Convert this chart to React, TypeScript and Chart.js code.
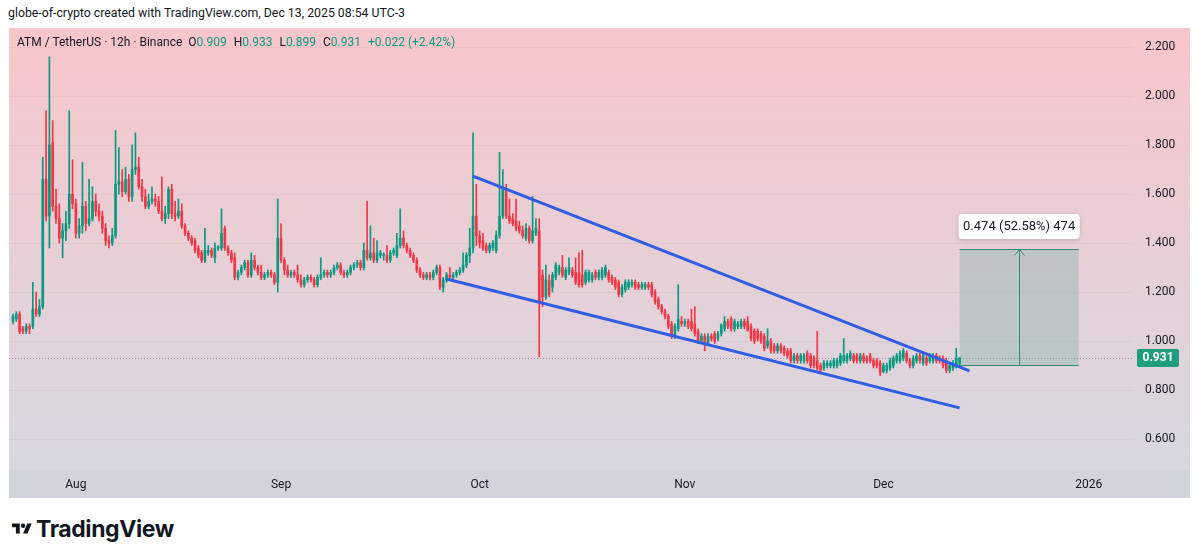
import React, { useEffect, useRef } from "react";
import { Chart, registerables } from "chart.js";

Chart.register(...registerables);

// ---- Candle data (ATM / TetherUS, 12h, from 22 Jul 2025 12:00) ----
const firstCandleDay = -9.5; // days relative to 1 Aug 2025 00:00
const candleStepDays = 0.5;

const opens = [
  1.08, 1.09, 1.11, 1.05, 1.04, 1.06, 1.06, 1.13, 1.11, 1.14,
  1.66, 1.51, 1.81, 1.55, 1.50, 1.42, 1.45, 1.48, 1.60, 1.56,
  1.44, 1.47, 1.55, 1.48, 1.50, 1.57, 1.53, 1.51, 1.46, 1.41,
  1.40, 1.43, 1.64, 1.65, 1.61, 1.66, 1.59, 1.70, 1.71, 1.63,
  1.59, 1.55, 1.57, 1.58, 1.57, 1.53, 1.50, 1.52, 1.62, 1.52,
  1.51, 1.53, 1.47, 1.44, 1.42, 1.41, 1.38, 1.36, 1.33, 1.36,
  1.37, 1.34, 1.38, 1.38, 1.46, 1.38, 1.36, 1.34, 1.26, 1.28,
  1.30, 1.32, 1.27, 1.33, 1.30, 1.28, 1.26, 1.27, 1.28, 1.27,
  1.24, 1.42, 1.33, 1.29, 1.27, 1.28, 1.27, 1.25, 1.23, 1.25,
  1.26, 1.25, 1.23, 1.26, 1.27, 1.28, 1.27, 1.28, 1.30, 1.31,
  1.28, 1.27, 1.28, 1.30, 1.31, 1.32, 1.30, 1.37, 1.34, 1.36,
  1.33, 1.35, 1.35, 1.35, 1.33, 1.36, 1.35, 1.39, 1.42, 1.39,
  1.37, 1.35, 1.33, 1.29, 1.27, 1.26, 1.27, 1.26, 1.28, 1.30,
  1.22, 1.25, 1.27, 1.26, 1.27, 1.28, 1.29, 1.31, 1.35, 1.38,
  1.51, 1.43, 1.41, 1.39, 1.37, 1.38, 1.37, 1.43, 1.51, 1.62,
  1.51, 1.50, 1.49, 1.47, 1.45, 1.42, 1.46, 1.41, 1.44, 1.45,
  1.27, 1.18, 1.25, 1.22, 1.26, 1.28, 1.30, 1.26, 1.28, 1.29,
  1.28, 1.28, 1.27, 1.24, 1.25, 1.25, 1.28, 1.26, 1.26, 1.27,
  1.28, 1.26, 1.25, 1.24, 1.19, 1.21, 1.22, 1.23, 1.24, 1.23,
  1.22, 1.22, 1.23, 1.23, 1.20, 1.17, 1.14, 1.12, 1.10, 1.07,
  1.02, 1.05, 1.08, 1.07, 1.08, 1.08, 1.07, 1.04, 1.00, 1.02,
  0.99, 1.02, 1.03, 1.01, 1.03, 1.05, 1.08, 1.09, 1.05, 1.06,
  1.06, 1.08, 1.08, 1.06, 1.04, 1.04, 1.03, 1.02, 0.98, 1.00,
  0.98, 0.96, 0.98, 0.97, 0.96, 0.96, 0.92, 0.94, 0.92, 0.92,
  0.95, 0.94, 0.93, 0.92, 0.90, 0.89, 0.90, 0.90, 0.90, 0.90,
  0.91, 0.92, 0.92, 0.93, 0.94, 0.94, 0.92, 0.94, 0.93, 0.94,
  0.92, 0.92, 0.91, 0.875, 0.88, 0.89, 0.90, 0.92, 0.92, 0.93,
  0.95, 0.92, 0.90, 0.92, 0.94, 0.91, 0.93, 0.92, 0.92, 0.94,
  0.93, 0.93, 0.92, 0.88, 0.89, 0.895, 0.909,
];

const highs = [
  1.11, 1.12, 1.12, 1.06, 1.07, 1.07, 1.24, 1.20, 1.17, 1.75,
  1.94, 2.16, 1.90, 1.62, 1.56, 1.48, 1.53, 1.94, 1.74, 1.58,
  1.50, 1.73, 1.57, 1.66, 1.63, 1.60, 1.56, 1.53, 1.48, 1.43,
  1.46, 1.86, 1.79, 1.70, 1.71, 1.68, 1.80, 1.85, 1.75, 1.66,
  1.62, 1.60, 1.63, 1.60, 1.59, 1.67, 1.55, 1.63, 1.64, 1.57,
  1.58, 1.56, 1.48, 1.45, 1.43, 1.42, 1.39, 1.37, 1.46, 1.39,
  1.38, 1.40, 1.39, 1.54, 1.47, 1.39, 1.37, 1.36, 1.29, 1.31,
  1.33, 1.33, 1.36, 1.35, 1.31, 1.31, 1.28, 1.29, 1.29, 1.28,
  1.58, 1.48, 1.34, 1.31, 1.29, 1.29, 1.31, 1.27, 1.26, 1.27,
  1.27, 1.26, 1.27, 1.34, 1.29, 1.29, 1.29, 1.31, 1.32, 1.32,
  1.29, 1.29, 1.31, 1.32, 1.33, 1.33, 1.40, 1.57, 1.47, 1.42,
  1.41, 1.37, 1.36, 1.39, 1.37, 1.38, 1.44, 1.54, 1.45, 1.40,
  1.38, 1.36, 1.34, 1.30, 1.28, 1.28, 1.28, 1.29, 1.31, 1.31,
  1.26, 1.28, 1.30, 1.28, 1.29, 1.30, 1.36, 1.36, 1.46, 1.85,
  1.64, 1.45, 1.44, 1.40, 1.40, 1.41, 1.45, 1.77, 1.70, 1.64,
  1.58, 1.52, 1.58, 1.49, 1.47, 1.48, 1.47, 1.59, 1.50, 1.50,
  1.29, 1.31, 1.27, 1.28, 1.32, 1.31, 1.35, 1.30, 1.34, 1.30,
  1.34, 1.36, 1.37, 1.29, 1.29, 1.28, 1.29, 1.29, 1.30, 1.31,
  1.29, 1.27, 1.26, 1.25, 1.23, 1.25, 1.25, 1.25, 1.25, 1.24,
  1.24, 1.24, 1.24, 1.24, 1.21, 1.18, 1.15, 1.13, 1.11, 1.08,
  1.07, 1.23, 1.10, 1.09, 1.09, 1.13, 1.14, 1.05, 1.03, 1.03,
  1.03, 1.03, 1.04, 1.04, 1.07, 1.10, 1.09, 1.10, 1.09, 1.08,
  1.09, 1.09, 1.10, 1.07, 1.05, 1.05, 1.04, 1.03, 1.05, 1.01,
  0.99, 0.99, 0.99, 0.98, 0.97, 0.97, 0.95, 0.95, 0.95, 0.95,
  0.96, 0.95, 0.94, 1.04, 0.91, 0.92, 0.92, 0.92, 0.93, 0.93,
  0.95, 1.01, 0.95, 0.96, 0.95, 0.95, 0.95, 0.95, 0.94, 0.95,
  0.93, 0.93, 0.92, 0.91, 0.91, 0.93, 0.94, 0.95, 0.96, 0.97,
  0.96, 0.93, 0.94, 0.95, 0.95, 0.95, 0.94, 0.95, 0.95, 0.95,
  0.94, 0.94, 0.93, 0.91, 0.92, 0.97, 0.933,
];

const lows = [
  1.07, 1.08, 1.03, 1.03, 1.03, 1.03, 1.05, 1.10, 1.10, 1.13,
  1.49, 1.38, 1.53, 1.48, 1.40, 1.34, 1.41, 1.46, 1.54, 1.42,
  1.42, 1.44, 1.45, 1.47, 1.49, 1.51, 1.49, 1.44, 1.39, 1.38,
  1.39, 1.42, 1.60, 1.59, 1.60, 1.57, 1.57, 1.68, 1.62, 1.57,
  1.54, 1.54, 1.56, 1.55, 1.52, 1.49, 1.48, 1.50, 1.50, 1.49,
  1.50, 1.46, 1.43, 1.41, 1.39, 1.36, 1.34, 1.32, 1.32, 1.35,
  1.34, 1.32, 1.37, 1.37, 1.37, 1.35, 1.32, 1.25, 1.25, 1.27,
  1.29, 1.26, 1.26, 1.29, 1.27, 1.25, 1.25, 1.26, 1.26, 1.23,
  1.20, 1.32, 1.27, 1.26, 1.26, 1.26, 1.24, 1.22, 1.22, 1.24,
  1.24, 1.22, 1.22, 1.25, 1.26, 1.26, 1.26, 1.27, 1.29, 1.27,
  1.26, 1.26, 1.27, 1.29, 1.30, 1.29, 1.29, 1.33, 1.33, 1.32,
  1.32, 1.34, 1.33, 1.32, 1.32, 1.35, 1.34, 1.38, 1.38, 1.36,
  1.34, 1.32, 1.28, 1.26, 1.25, 1.25, 1.25, 1.25, 1.27, 1.21,
  1.20, 1.24, 1.25, 1.25, 1.26, 1.27, 1.28, 1.30, 1.32, 1.36,
  1.39, 1.38, 1.37, 1.36, 1.36, 1.37, 1.36, 1.42, 1.50, 1.50,
  1.48, 1.47, 1.45, 1.44, 1.42, 1.41, 1.40, 1.40, 1.43, 0.935,
  1.14, 1.17, 1.18, 1.20, 1.25, 1.27, 1.26, 1.25, 1.27, 1.26,
  1.23, 1.22, 1.22, 1.23, 1.24, 1.24, 1.25, 1.25, 1.25, 1.26,
  1.24, 1.23, 1.21, 1.18, 1.18, 1.20, 1.21, 1.22, 1.21, 1.21,
  1.21, 1.21, 1.21, 1.18, 1.15, 1.13, 1.11, 1.09, 1.05, 1.01,
  1.01, 1.04, 1.06, 1.06, 1.05, 1.04, 1.02, 0.99, 0.99, 0.96,
  0.98, 1.00, 0.99, 1.00, 1.02, 1.04, 1.05, 1.04, 1.04, 1.05,
  1.05, 1.05, 1.04, 1.00, 0.99, 1.00, 0.99, 0.96, 0.97, 0.95,
  0.95, 0.95, 0.95, 0.94, 0.93, 0.91, 0.91, 0.91, 0.91, 0.91,
  0.91, 0.89, 0.89, 0.88, 0.87, 0.88, 0.89, 0.89, 0.89, 0.89,
  0.90, 0.91, 0.91, 0.92, 0.91, 0.91, 0.91, 0.91, 0.91, 0.91,
  0.89, 0.89, 0.86, 0.87, 0.87, 0.88, 0.89, 0.91, 0.91, 0.92,
  0.91, 0.89, 0.89, 0.91, 0.91, 0.90, 0.90, 0.91, 0.91, 0.91,
  0.91, 0.89, 0.87, 0.87, 0.88, 0.89, 0.899,
];

const closes = [
  1.10, 1.11, 1.04, 1.04, 1.06, 1.05, 1.13, 1.11, 1.14, 1.66,
  1.51, 1.80, 1.55, 1.50, 1.42, 1.45, 1.48, 1.60, 1.56, 1.44,
  1.47, 1.55, 1.48, 1.50, 1.57, 1.53, 1.51, 1.46, 1.41, 1.40,
  1.43, 1.64, 1.65, 1.61, 1.66, 1.59, 1.70, 1.71, 1.63, 1.59,
  1.55, 1.57, 1.58, 1.57, 1.53, 1.50, 1.52, 1.62, 1.52, 1.51,
  1.53, 1.47, 1.44, 1.42, 1.40, 1.37, 1.35, 1.33, 1.37, 1.37,
  1.35, 1.38, 1.38, 1.44, 1.38, 1.36, 1.33, 1.26, 1.28, 1.30,
  1.32, 1.27, 1.33, 1.30, 1.28, 1.26, 1.27, 1.28, 1.27, 1.24,
  1.42, 1.33, 1.29, 1.27, 1.28, 1.27, 1.25, 1.23, 1.25, 1.26,
  1.25, 1.23, 1.26, 1.27, 1.28, 1.27, 1.28, 1.30, 1.31, 1.28,
  1.27, 1.28, 1.30, 1.31, 1.32, 1.30, 1.37, 1.34, 1.36, 1.33,
  1.36, 1.36, 1.35, 1.33, 1.36, 1.37, 1.39, 1.42, 1.39, 1.37,
  1.35, 1.33, 1.29, 1.27, 1.26, 1.27, 1.26, 1.28, 1.30, 1.22,
  1.25, 1.27, 1.26, 1.27, 1.28, 1.29, 1.31, 1.35, 1.38, 1.51,
  1.43, 1.40, 1.38, 1.37, 1.39, 1.40, 1.43, 1.51, 1.62, 1.51,
  1.49, 1.48, 1.46, 1.45, 1.43, 1.46, 1.41, 1.45, 1.46, 1.16,
  1.18, 1.25, 1.19, 1.27, 1.31, 1.30, 1.27, 1.29, 1.30, 1.27,
  1.24, 1.23, 1.23, 1.28, 1.28, 1.27, 1.26, 1.28, 1.29, 1.30,
  1.25, 1.24, 1.22, 1.19, 1.22, 1.24, 1.24, 1.24, 1.22, 1.22,
  1.23, 1.23, 1.22, 1.19, 1.16, 1.14, 1.12, 1.10, 1.06, 1.02,
  1.06, 1.09, 1.07, 1.08, 1.06, 1.05, 1.03, 1.00, 1.02, 0.99,
  1.02, 1.01, 1.00, 1.03, 1.065, 1.08, 1.06, 1.05, 1.08, 1.07,
  1.08, 1.06, 1.045, 1.01, 1.00, 1.01, 1.00, 0.97, 1.00, 0.96,
  0.96, 0.98, 0.96, 0.95, 0.94, 0.92, 0.94, 0.92, 0.94, 0.94,
  0.92, 0.90, 0.90, 0.89, 0.88, 0.91, 0.91, 0.91, 0.92, 0.92,
  0.94, 0.94, 0.94, 0.95, 0.92, 0.92, 0.94, 0.92, 0.92, 0.92,
  0.90, 0.90, 0.87, 0.90, 0.90, 0.92, 0.93, 0.94, 0.95, 0.96,
  0.92, 0.90, 0.93, 0.94, 0.92, 0.94, 0.91, 0.94, 0.94, 0.92,
  0.92, 0.90, 0.88, 0.90, 0.91, 0.93, 0.931,
];

// ---- Axes ----
const monthTickDays = [0, 31, 61, 92, 122, 153];
const monthTickLabels = ["Aug", "Sep", "Oct", "Nov", "Dec", "2026"];
const priceTicks = [0.6, 0.8, 1.0, 1.2, 1.4, 1.6, 1.8, 2.0, 2.2];
const xRange = [-10.1, 159.7];
const yRange = [0.4735, 2.278];

// ---- Drawings ----
const upperTrendDays = [60, 135];
const upperTrendValues = [1.673, 0.878];
const lowerTrendDays = [56, 133.5];
const lowerTrendValues = [1.253, 0.727];

const rangeDays = [133.5, 151.5];
const rangeValues = [0.9015, 1.3755];
const rangeLabel = "0.474 (52.58%) 474";

const lastPrice = 0.931;

const UP = "#089981";
const DOWN = "#f23645";
const TREND = "#2f5de3";
const FONT = "Roboto, 'Liberation Sans', sans-serif";

function roundRect(ctx: CanvasRenderingContext2D, x: number, y: number, w: number, h: number, r: number) {
  ctx.beginPath();
  ctx.moveTo(x + r, y);
  ctx.lineTo(x + w - r, y);
  ctx.quadraticCurveTo(x + w, y, x + w, y + r);
  ctx.lineTo(x + w, y + h - r);
  ctx.quadraticCurveTo(x + w, y + h, x + w - r, y + h);
  ctx.lineTo(x + r, y + h);
  ctx.quadraticCurveTo(x, y + h, x, y + h - r);
  ctx.lineTo(x, y + r);
  ctx.quadraticCurveTo(x, y, x + r, y);
  ctx.closePath();
}

const tvPlugin = {
  id: "tvPlugin",
  beforeDraw(chart: any) {
    const { ctx, chartArea, width, height } = chart;
    ctx.save();
    const g = ctx.createLinearGradient(0, 0, 0, chartArea.bottom);
    g.addColorStop(0, "#f8c6ca");
    g.addColorStop(1, "#d8d8e2");
    ctx.fillStyle = g;
    ctx.fillRect(0, 0, width, chartArea.bottom);
    ctx.fillStyle = "#d1d4dc";
    ctx.fillRect(0, chartArea.bottom, width, height - chartArea.bottom);
    ctx.restore();
  },
  beforeDatasetsDraw(chart: any) {
    const { ctx, chartArea, scales } = chart;
    const xs = scales.x;
    const ys = scales.y;
    ctx.save();
    // current price dotted line
    const yp = Math.round(ys.getPixelForValue(lastPrice)) + 0.5;
    ctx.strokeStyle = "#8f93a0";
    ctx.lineWidth = 1;
    ctx.setLineDash([1, 2]);
    ctx.beginPath();
    ctx.moveTo(chartArea.left, yp);
    ctx.lineTo(chartArea.right, yp);
    ctx.stroke();
    ctx.setLineDash([]);

    // price range box
    const x1 = xs.getPixelForValue(rangeDays[0]);
    const x2 = xs.getPixelForValue(rangeDays[1]);
    const yTop = Math.round(ys.getPixelForValue(rangeValues[1])) + 0.5;
    const yBot = Math.round(ys.getPixelForValue(rangeValues[0])) + 0.5;
    ctx.fillStyle = "rgba(110, 170, 160, 0.32)";
    ctx.fillRect(x1, yTop, x2 - x1, yBot - yTop);
    ctx.strokeStyle = "#2e8a74";
    ctx.lineWidth = 1;
    ctx.beginPath();
    ctx.moveTo(x1, yTop);
    ctx.lineTo(x2, yTop);
    ctx.moveTo(x1, yBot);
    ctx.lineTo(x2, yBot);
    const xm = Math.round((x1 + x2) / 2) + 0.5;
    ctx.moveTo(xm, yBot);
    ctx.lineTo(xm, yTop);
    ctx.moveTo(xm - 5, yTop + 6);
    ctx.lineTo(xm, yTop);
    ctx.lineTo(xm + 5, yTop + 6);
    ctx.stroke();
    ctx.restore();
  },
  afterDraw(chart: any) {
    const { ctx, scales } = chart;
    const xs = scales.x;
    const ys = scales.y;
    ctx.save();
    // range label
    const x1 = xs.getPixelForValue(rangeDays[0]);
    const x2 = xs.getPixelForValue(rangeDays[1]);
    const yTop = ys.getPixelForValue(rangeValues[1]);
    ctx.shadowColor = "rgba(0,0,0,0.18)";
    ctx.shadowBlur = 4;
    ctx.shadowOffsetY = 1;
    ctx.fillStyle = "#ffffff";
    roundRect(ctx, x1 - 1, yTop - 35, x2 - x1 + 2, 25, 4);
    ctx.fill();
    ctx.shadowColor = "transparent";
    ctx.fillStyle = "#131722";
    ctx.font = `13px ${FONT}`;
    ctx.textAlign = "center";
    ctx.textBaseline = "middle";
    ctx.fillText(rangeLabel, (x1 + x2) / 2, yTop - 22);

    // last price tag on the price axis
    const yp = ys.getPixelForValue(lastPrice);
    ctx.fillStyle = "#1f9e7e";
    roundRect(ctx, ys.left + 4, yp - 9, 42, 18, 2);
    ctx.fill();
    ctx.fillStyle = "#ffffff";
    ctx.font = `bold 12px ${FONT}`;
    ctx.fillText(lastPrice.toFixed(3), ys.left + 25, yp + 0.5);
    ctx.restore();
  },
};

export default function App() {
  const canvasRef = useRef<HTMLCanvasElement | null>(null);

  useEffect(() => {
    if (!canvasRef.current) return;
    Chart.defaults.font.family = FONT;
    const times = opens.map((_, i) => firstCandleDay + i * candleStepDays);
    const colors = opens.map((o, i) => (closes[i] >= o ? UP : DOWN));

    const chart = new Chart(canvasRef.current, {
      type: "bar",
      data: {
        datasets: [
          {
            type: "line",
            data: upperTrendDays.map((d, i) => ({ x: d, y: upperTrendValues[i] })),
            borderColor: TREND,
            borderWidth: 3,
            pointRadius: 0,
            order: 0,
          } as any,
          {
            type: "line",
            data: lowerTrendDays.map((d, i) => ({ x: d, y: lowerTrendValues[i] })),
            borderColor: TREND,
            borderWidth: 3,
            pointRadius: 0,
            order: 0,
          } as any,
          {
            type: "bar",
            data: times.map((t, i) => ({ x: t, y: [opens[i], closes[i]] })),
            backgroundColor: colors,
            barThickness: 2,
            minBarLength: 1,
            grouped: false,
            borderWidth: 0,
            order: 1,
          } as any,
          {
            type: "bar",
            data: times.map((t, i) => ({ x: t, y: [lows[i], highs[i]] })),
            backgroundColor: colors,
            barThickness: 1,
            grouped: false,
            borderWidth: 0,
            order: 2,
          } as any,
        ],
      },
      options: {
        responsive: false,
        animation: false,
        events: [],
        layout: { padding: 0 },
        plugins: { legend: { display: false }, tooltip: { enabled: false } },
        scales: {
          x: {
            type: "linear",
            min: xRange[0],
            max: xRange[1],
            offset: false,
            grid: { display: false, drawTicks: false },
            border: { display: false },
            afterBuildTicks: (s: any) => {
              s.ticks = monthTickDays.map((v) => ({ value: v }));
            },
            afterFit: (s: any) => {
              s.height = 28;
              s.paddingLeft = 0;
              s.paddingRight = 0;
            },
            ticks: {
              autoSkip: false,
              maxRotation: 0,
              padding: 8,
              color: "#131722",
              font: { size: 12 },
              callback: (v: any) => {
                const k = monthTickDays.indexOf(Number(v));
                return k >= 0 ? monthTickLabels[k] : "";
              },
            },
          },
          y: {
            type: "linear",
            position: "right",
            min: yRange[0],
            max: yRange[1],
            grid: { color: "rgba(120, 123, 140, 0.08)", drawTicks: false },
            border: { display: false },
            afterBuildTicks: (s: any) => {
              s.ticks = priceTicks.map((v) => ({ value: v }));
            },
            afterFit: (s: any) => {
              s.width = 57;
              s.paddingTop = 0;
              s.paddingBottom = 0;
            },
            ticks: {
              padding: 12,
              color: "#131722",
              font: { size: 12 },
              callback: (v: any) => Number(v).toFixed(3),
            },
          },
        },
      } as any,
      plugins: [tvPlugin],
    });
    return () => chart.destroy();
  }, []);

  return (
    <div
      style={{
        position: "absolute",
        left: 0,
        top: 0,
        width: 1200,
        height: 560,
        background: "#ffffff",
        fontFamily: FONT,
        color: "#131722",
        overflow: "hidden",
      }}
    >
      <div style={{ position: "absolute", left: 8, top: 6, fontSize: 12.3, whiteSpace: "nowrap" }}>
        globe-of-crypto created with TradingView.com, Dec 13, 2025 08:54 UTC-3
      </div>
      <div style={{ position: "absolute", left: 9, top: 28, width: 1181, height: 470 }}>
        <canvas ref={canvasRef} width={1181} height={470} style={{ display: "block" }} />
      </div>
      <div
        style={{
          position: "absolute",
          left: 17,
          top: 35,
          fontSize: 12,
          whiteSpace: "nowrap",
          color: "#131722",
        }}
      >
        <span>ATM / TetherUS · 12h · Binance</span>
        <span style={{ marginLeft: 6 }}>O</span>
        <span style={{ color: UP }}>0.909</span>
        <span style={{ marginLeft: 7 }}>H</span>
        <span style={{ color: UP }}>0.933</span>
        <span style={{ marginLeft: 7 }}>L</span>
        <span style={{ color: UP }}>0.899</span>
        <span style={{ marginLeft: 7 }}>C</span>
        <span style={{ color: UP }}>0.931</span>
        <span style={{ marginLeft: 7, color: UP }}>+0.022 (+2.42%)</span>
      </div>
      <div
        style={{
          position: "absolute",
          left: 12,
          top: 515,
          display: "flex",
          alignItems: "center",
          gap: 4,
          color: "#131722",
        }}
      >
        <svg width="20" height="16" viewBox="0 0 36 28">
          <path d="M14 22H7V11H0V4h14v18zM28 22h-8l7.5-18h8L28 22z" fill="#131722" />
          <circle cx="20" cy="8" r="4" fill="#131722" />
        </svg>
        <span style={{ fontSize: 23, fontWeight: 700, letterSpacing: -0.4, fontFamily: "Inter, Roboto, sans-serif" }}>
          TradingView
        </span>
      </div>
    </div>
  );
}
